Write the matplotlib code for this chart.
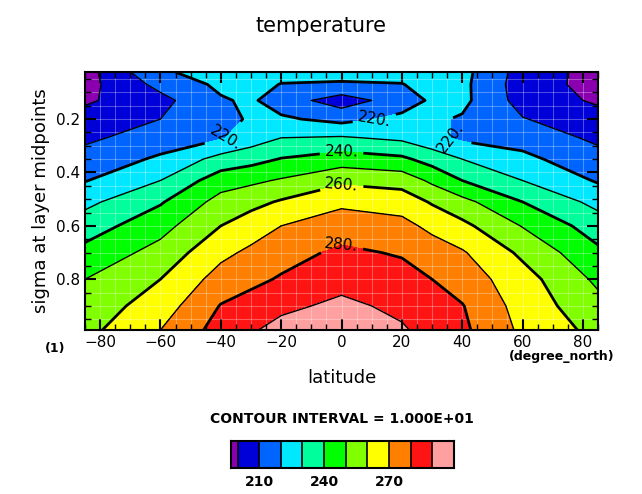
import numpy as np
import matplotlib
matplotlib.use("Agg")
import matplotlib.pyplot as plt
from matplotlib.colors import ListedColormap, BoundaryNorm
from matplotlib.ticker import MultipleLocator

lat = [-85, -60, -40, -30, -20, 0, 20, 30, 40, 60, 85]
sigma = [0.024, 0.07, 0.13, 0.2, 0.27, 0.35, 0.43, 0.51, 0.6, 0.7, 0.8, 0.9, 0.99]
# temperature [K], one list per latitude, top to bottom in sigma
t_s85 = [196, 196.5, 198.5, 204, 208, 214, 219.5, 227.5, 235, 243, 250, 254, 257]
t_s60 = [219, 213, 207, 210, 215, 221.5, 230, 239, 246.5, 253.5, 260, 265, 270]
t_s40 = [223, 222, 219, 216, 219, 233.5, 245.5, 253.5, 260, 267.5, 274, 280.5, 284]
t_s30 = [223, 222, 221.5, 221.5, 225, 236.5, 248, 257, 265, 272, 277.5, 284, 289]
t_s20 = [222, 219.8, 215, 221.5, 230, 240.5, 251, 261, 270, 276, 281, 288, 293]
t_eq = [223, 219, 205, 217, 231, 245, 258, 268, 275, 282, 287, 292, 296]
t_n20 = [222, 219.8, 215, 222.5, 228, 242, 256, 265.5, 273, 279, 284, 288, 291]
t_n30 = [223, 222, 221.5, 221.5, 223, 236, 248, 259, 267.5, 275, 280, 284, 287]
t_n40 = [223, 222.5, 222.5, 219, 218, 230, 240, 253, 262.5, 271, 275.5, 280.5, 282]
t_n60 = [206, 205, 206, 210.5, 216, 222.5, 230, 240, 249.5, 258, 264, 266, 268]
t_n85 = [196, 196.5, 198.5, 204, 208, 213.5, 219, 227, 235, 242, 248, 253, 257]

levels = [200, 210, 220, 230, 240, 250, 260, 270, 280, 290]
colors = ["#8a00b0", "#0000d8", "#0064ff", "#00e8ff", "#00ff9c", "#00ff00",
          "#80ff00", "#ffff00", "#ff8000", "#ff1414", "#ffa0a0"]

T = np.array([t_s85, t_s60, t_s40, t_s30, t_s20, t_eq,
              t_n20, t_n30, t_n40, t_n60, t_n85]).T

fig = plt.figure(figsize=(6.42, 4.94), dpi=100)
ax = fig.add_axes([0.1324, 0.332, 0.7991, 0.522])

bounds = [150] + levels + [350]
cmap = ListedColormap(colors)
norm = BoundaryNorm(bounds, cmap.N)
ax.contourf(lat, sigma, T, levels=bounds, cmap=cmap, norm=norm)
thin = ax.contour(lat, sigma, T, levels=[200, 210, 230, 250, 270, 290], colors="k", linewidths=1.0)
thick = ax.contour(lat, sigma, T, levels=[220, 240, 260, 280], colors="k", linewidths=2.0)
ax.clabel(thick, fmt="%d.", fontsize=11, inline=True)

ax.set_xlim(-85, 85)
ax.set_ylim(0.99, 0.024)
ax.set_xticks([-80, -60, -40, -20, 0, 20, 40, 60, 80])
ax.set_yticks([0.2, 0.4, 0.6, 0.8])
ax.xaxis.set_minor_locator(MultipleLocator(5))
ax.yaxis.set_minor_locator(MultipleLocator(0.05))
ax.tick_params(which="major", direction="in", length=8, width=1.5, top=True, right=True, labelsize=11)
ax.tick_params(which="minor", direction="in", length=4, width=1, top=True, right=True)
ax.grid(which="both", color="white", alpha=0.3, lw=0.8)
for s in ax.spines.values():
    s.set_linewidth(1.5)

ax.set_xlabel("latitude", fontsize=13, labelpad=14)
ax.set_ylabel("sigma at layer midpoints", fontsize=13)
fig.text(0.5, 0.935, "temperature", ha="center", fontsize=15)
fig.text(0.07, 0.287, "(1)", ha="left", fontsize=9, fontweight="bold")
fig.text(0.957, 0.272, "(degree_north)", ha="right", fontsize=9, fontweight="bold")
fig.text(0.533, 0.143, "CONTOUR INTERVAL = 1.000E+01", ha="center", fontsize=10, fontweight="bold")

# colour bar
cax = fig.add_axes([0.36, 0.053, 0.347, 0.055])
cb_bounds = [197] + levels + [300]
mids = [(a + b) / 2 for a, b in zip(cb_bounds[:-1], cb_bounds[1:])]
cax.pcolormesh(cb_bounds, [0, 1], [mids], cmap=cmap, norm=norm)
for b in levels:
    cax.axvline(b, color="k", lw=1.2)
cax.set_xlim(197, 300)
cax.set_yticks([])
cax.set_xticks([210, 240, 270])
cax.tick_params(length=0, labelsize=10, pad=5)
for lab in cax.get_xticklabels():
    lab.set_fontweight("bold")
for s in cax.spines.values():
    s.set_linewidth(1.5)

fig.savefig("out.png", dpi=100)
